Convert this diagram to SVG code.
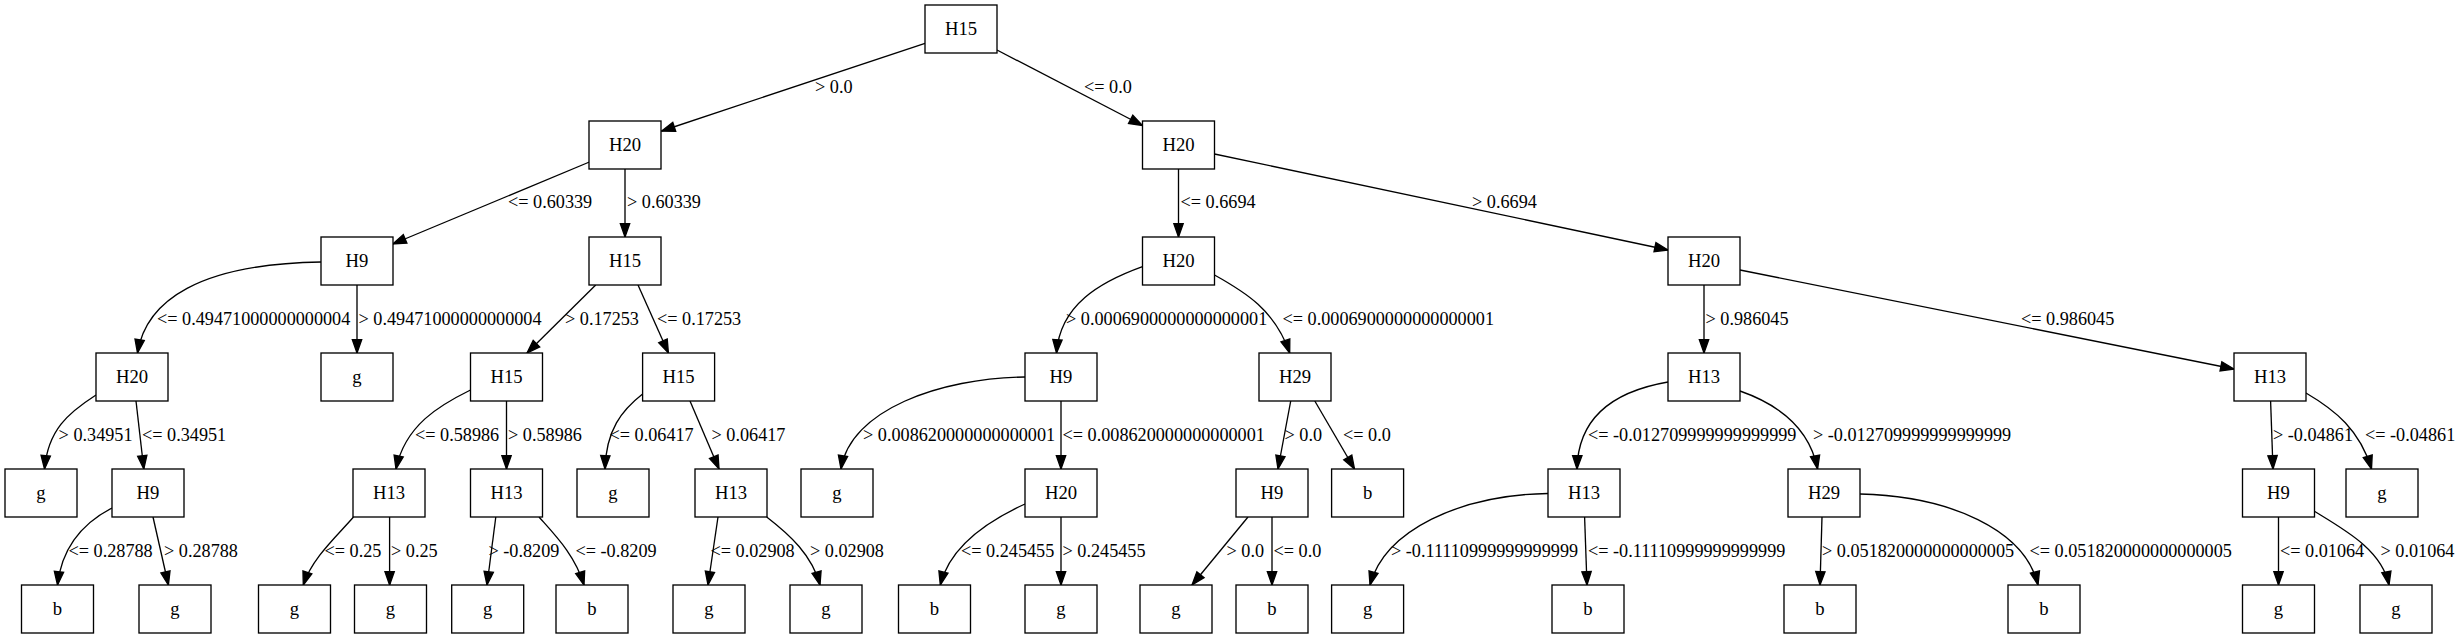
<svg xmlns="http://www.w3.org/2000/svg" width="2464" height="639" viewBox="0 0 2464 639">
<style>
.nd rect{fill:#fff;stroke:#000;stroke-width:1.33}
.nd text{font-family:"Liberation Serif","Times New Roman",serif;font-size:18.67px;text-anchor:middle;fill:#000}
#edges path{fill:none;stroke:#000;stroke-width:1.33;marker-end:url(#ah)}
#edges text{font-family:"Liberation Serif","Times New Roman",serif;font-size:18.2px;fill:#000}
</style>
<defs>
<marker id="ah" markerUnits="userSpaceOnUse" markerWidth="16" markerHeight="12" refX="13.33" refY="4.67" orient="auto" overflow="visible">
<path d="M0,0 L13.33,4.67 L0,9.33 Z" fill="#000" stroke="#000" stroke-width="1.33"/>
</marker>
</defs>
<rect width="2464" height="639" fill="#fff"/>
<g id="edges">
<path d="M925,43.3 L661.6,131"/><text x="815" y="93">&gt; 0.0</text>
<path d="M997,50 L1142.5,125.5"/><text x="1084" y="93">&lt;= 0.0</text>
<path d="M589.4,162 L392.8,244"/><text x="508" y="208.3">&lt;= 0.60339</text>
<path d="M625,169 L625,237"/><text x="627" y="208.3">&gt; 0.60339</text>
<path d="M1178.5,169 L1178.5,237"/><text x="1180.5" y="208.3">&lt;= 0.6694</text>
<path d="M1214.5,154 L1668,250"/><text x="1472" y="208.3">&gt; 0.6694</text>
<path d="M321,262 C200,264 146,300 137.5,353"/><text x="157" y="324.7">&lt;= 0.49471000000000004</text>
<path d="M357,285 L357,353"/><text x="358.5" y="324.7">&gt; 0.49471000000000004</text>
<path d="M595.7,285 L527,353"/><text x="565" y="324.7">&gt; 0.17253</text>
<path d="M638,285 L668.4,353"/><text x="657" y="324.7">&lt;= 0.17253</text>
<path d="M1142.5,266.7 C1100,282 1060,305 1056.5,353"/><text x="1066" y="324.7">&gt; 0.0006900000000000001</text>
<path d="M1214.5,275 C1245,292 1275,310 1289.7,353"/><text x="1282.5" y="324.7">&lt;= 0.0006900000000000001</text>
<path d="M1704,285 L1704,353"/><text x="1705.5" y="324.7">&gt; 0.986045</text>
<path d="M1740,270 L2234,369"/><text x="2021" y="324.7">&lt;= 0.986045</text>
<path d="M96,395 C68,413 48,430 44.5,469"/><text x="58.6" y="440.7">&gt; 0.34951</text>
<path d="M136,401 L143.8,469"/><text x="142" y="440.7">&lt;= 0.34951</text>
<path d="M470.5,390 C440,405 405,425 396,469"/><text x="415" y="440.7">&lt;= 0.58986</text>
<path d="M506.5,401 L506.5,469"/><text x="508" y="440.7">&gt; 0.58986</text>
<path d="M642.6,394 C622,410 606,430 605,469"/><text x="609.5" y="440.7">&lt;= 0.06417</text>
<path d="M690,401 L719,469"/><text x="711.5" y="440.7">&gt; 0.06417</text>
<path d="M1025,377 C940,378 850,410 841,469"/><text x="863" y="440.7">&gt; 0.008620000000000001</text>
<path d="M1061,401 L1061,469"/><text x="1062.5" y="440.7">&lt;= 0.008620000000000001</text>
<path d="M1290.7,401 L1278,469"/><text x="1284.5" y="440.7">&gt; 0.0</text>
<path d="M1314.8,401 L1354.5,469"/><text x="1343" y="440.7">&lt;= 0.0</text>
<path d="M1668,382 C1610,392 1578,420 1577,469"/><text x="1588" y="440.7">&lt;= -0.012709999999999999</text>
<path d="M1740,391 C1780,405 1810,430 1817.6,469"/><text x="1813" y="440.7">&gt; -0.012709999999999999</text>
<path d="M2270.6,401 L2273,469"/><text x="2273" y="440.7">&gt; -0.04861</text>
<path d="M2306,393 C2335,410 2360,430 2371.5,469"/><text x="2365" y="440.7">&lt;= -0.04861</text>
<path d="M112,508 C85,522 62,545 57.5,585"/><text x="68.5" y="556.7">&lt;= 0.28788</text>
<path d="M153,517 L168.4,585"/><text x="164" y="556.7">&gt; 0.28788</text>
<path d="M353.5,517 C338,535 312,558 303.3,585"/><text x="324.5" y="556.7">&lt;= 0.25</text>
<path d="M389.6,517 L389.6,585"/><text x="391" y="556.7">&gt; 0.25</text>
<path d="M495.8,517 L487,585"/><text x="488.5" y="556.7">&gt; -0.8209</text>
<path d="M539,517 C555,535 575,555 584,585"/><text x="575.5" y="556.7">&lt;= -0.8209</text>
<path d="M718,517 L708,585"/><text x="710.5" y="556.7">&lt;= 0.02908</text>
<path d="M766.7,517 C790,535 812,555 820,585"/><text x="810" y="556.7">&gt; 0.02908</text>
<path d="M1025,504 C990,520 950,545 940.3,585"/><text x="961" y="556.7">&lt;= 0.245455</text>
<path d="M1061,517 L1061,585"/><text x="1062.5" y="556.7">&gt; 0.245455</text>
<path d="M1248,517 L1192,585"/><text x="1226.5" y="556.7">&gt; 0.0</text>
<path d="M1272,517 L1272,585"/><text x="1273.5" y="556.7">&lt;= 0.0</text>
<path d="M1548,493.5 C1460,495 1385,530 1370,585"/><text x="1391" y="556.7">&gt; -0.11110999999999999</text>
<path d="M1584.6,517 L1587,585"/><text x="1588" y="556.7">&lt;= -0.11110999999999999</text>
<path d="M1822,517 L1820,585"/><text x="1822" y="556.7">&gt; 0.051820000000000005</text>
<path d="M1860,494 C1950,496 2025,530 2038,585"/><text x="2029.5" y="556.7">&lt;= 0.051820000000000005</text>
<path d="M2278.5,517 L2278.5,585"/><text x="2280" y="556.7">&lt;= 0.01064</text>
<path d="M2314,511 C2345,530 2382,550 2389,585"/><text x="2380.5" y="556.7">&gt; 0.01064</text>
</g>
<g id="n0" class="nd"><rect x="925" y="5" width="72" height="48"/><text x="961" y="34.6">H15</text></g>
<g id="n1" class="nd"><rect x="589" y="121" width="72" height="48"/><text x="625" y="150.6">H20</text></g>
<g id="n2" class="nd"><rect x="1142.5" y="121" width="72" height="48"/><text x="1178.5" y="150.6">H20</text></g>
<g id="n3" class="nd"><rect x="321" y="237" width="72" height="48"/><text x="357" y="266.6">H9</text></g>
<g id="n4" class="nd"><rect x="589" y="237" width="72" height="48"/><text x="625" y="266.6">H15</text></g>
<g id="n5" class="nd"><rect x="1142.5" y="237" width="72" height="48"/><text x="1178.5" y="266.6">H20</text></g>
<g id="n6" class="nd"><rect x="1668" y="237" width="72" height="48"/><text x="1704" y="266.6">H20</text></g>
<g id="n7" class="nd"><rect x="96" y="353" width="72" height="48"/><text x="132" y="382.6">H20</text></g>
<g id="n8" class="nd"><rect x="321" y="353" width="72" height="48"/><text x="357" y="382.6">g</text></g>
<g id="n9" class="nd"><rect x="470.5" y="353" width="72" height="48"/><text x="506.5" y="382.6">H15</text></g>
<g id="n10" class="nd"><rect x="642.6" y="353" width="72" height="48"/><text x="678.6" y="382.6">H15</text></g>
<g id="n11" class="nd"><rect x="1025" y="353" width="72" height="48"/><text x="1061" y="382.6">H9</text></g>
<g id="n12" class="nd"><rect x="1259" y="353" width="72" height="48"/><text x="1295" y="382.6">H29</text></g>
<g id="n13" class="nd"><rect x="1668" y="353" width="72" height="48"/><text x="1704" y="382.6">H13</text></g>
<g id="n14" class="nd"><rect x="2234" y="353" width="72" height="48"/><text x="2270" y="382.6">H13</text></g>
<g id="n15" class="nd"><rect x="5" y="469" width="72" height="48"/><text x="41" y="498.6">g</text></g>
<g id="n16" class="nd"><rect x="112" y="469" width="72" height="48"/><text x="148" y="498.6">H9</text></g>
<g id="n17" class="nd"><rect x="353" y="469" width="72" height="48"/><text x="389" y="498.6">H13</text></g>
<g id="n18" class="nd"><rect x="470.5" y="469" width="72" height="48"/><text x="506.5" y="498.6">H13</text></g>
<g id="n19" class="nd"><rect x="577" y="469" width="72" height="48"/><text x="613" y="498.6">g</text></g>
<g id="n20" class="nd"><rect x="695" y="469" width="72" height="48"/><text x="731" y="498.6">H13</text></g>
<g id="n21" class="nd"><rect x="801" y="469" width="72" height="48"/><text x="837" y="498.6">g</text></g>
<g id="n22" class="nd"><rect x="1025" y="469" width="72" height="48"/><text x="1061" y="498.6">H20</text></g>
<g id="n23" class="nd"><rect x="1236" y="469" width="72" height="48"/><text x="1272" y="498.6">H9</text></g>
<g id="n24" class="nd"><rect x="1331.6" y="469" width="72" height="48"/><text x="1367.6" y="498.6">b</text></g>
<g id="n25" class="nd"><rect x="1548" y="469" width="72" height="48"/><text x="1584" y="498.6">H13</text></g>
<g id="n26" class="nd"><rect x="1788" y="469" width="72" height="48"/><text x="1824" y="498.6">H29</text></g>
<g id="n27" class="nd"><rect x="2242.5" y="469" width="72" height="48"/><text x="2278.5" y="498.6">H9</text></g>
<g id="n28" class="nd"><rect x="2346" y="469" width="72" height="48"/><text x="2382" y="498.6">g</text></g>
<g id="n29" class="nd"><rect x="21.5" y="585" width="72" height="48"/><text x="57.5" y="614.6">b</text></g>
<g id="n30" class="nd"><rect x="139" y="585" width="72" height="48"/><text x="175" y="614.6">g</text></g>
<g id="n31" class="nd"><rect x="258.5" y="585" width="72" height="48"/><text x="294.5" y="614.6">g</text></g>
<g id="n32" class="nd"><rect x="354.5" y="585" width="72" height="48"/><text x="390.5" y="614.6">g</text></g>
<g id="n33" class="nd"><rect x="451.7" y="585" width="72" height="48"/><text x="487.7" y="614.6">g</text></g>
<g id="n34" class="nd"><rect x="556" y="585" width="72" height="48"/><text x="592" y="614.6">b</text></g>
<g id="n35" class="nd"><rect x="673" y="585" width="72" height="48"/><text x="709" y="614.6">g</text></g>
<g id="n36" class="nd"><rect x="790" y="585" width="72" height="48"/><text x="826" y="614.6">g</text></g>
<g id="n37" class="nd"><rect x="898.5" y="585" width="72" height="48"/><text x="934.5" y="614.6">b</text></g>
<g id="n38" class="nd"><rect x="1025" y="585" width="72" height="48"/><text x="1061" y="614.6">g</text></g>
<g id="n39" class="nd"><rect x="1140" y="585" width="72" height="48"/><text x="1176" y="614.6">g</text></g>
<g id="n40" class="nd"><rect x="1236" y="585" width="72" height="48"/><text x="1272" y="614.6">b</text></g>
<g id="n41" class="nd"><rect x="1331.6" y="585" width="72" height="48"/><text x="1367.6" y="614.6">g</text></g>
<g id="n42" class="nd"><rect x="1552" y="585" width="72" height="48"/><text x="1588" y="614.6">b</text></g>
<g id="n43" class="nd"><rect x="1784" y="585" width="72" height="48"/><text x="1820" y="614.6">b</text></g>
<g id="n44" class="nd"><rect x="2008" y="585" width="72" height="48"/><text x="2044" y="614.6">b</text></g>
<g id="n45" class="nd"><rect x="2242.5" y="585" width="72" height="48"/><text x="2278.5" y="614.6">g</text></g>
<g id="n46" class="nd"><rect x="2360" y="585" width="72" height="48"/><text x="2396" y="614.6">g</text></g>
</svg>
